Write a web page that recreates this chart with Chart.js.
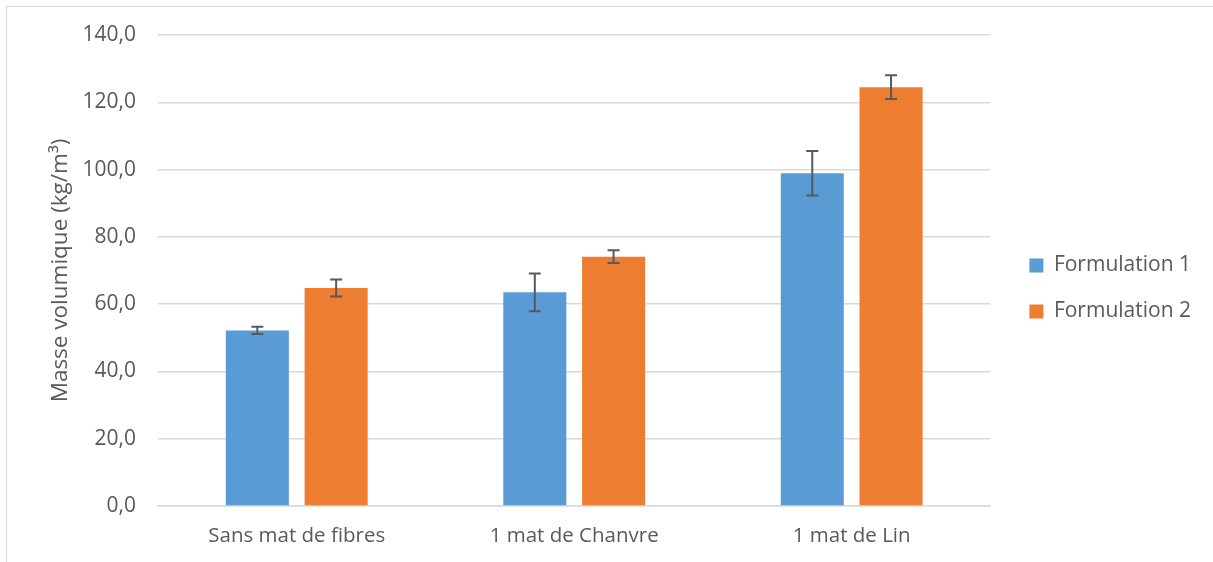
<!DOCTYPE html>
<html>
<head>
<meta charset="utf-8">
<script src="https://cdn.jsdelivr.net/npm/chart.js@4"></script>
<style>
  body { margin: 0; background: #fff; }
  #frame { position: absolute; left: 6px; top: 6px; width: 1220px; height: 600px; border: 1px solid #d9d9d9; }
  #wrap { position: absolute; left: 0; top: 0; width: 1213px; height: 562px; }
</style>
</head>
<body>
<div id="frame"></div>
<div id="wrap"><canvas id="myChart"></canvas></div>
<script>
let categories = ["Sans mat de fibres", "1 mat de Chanvre", "1 mat de Lin"];
let formulation1 = [52.2, 63.5, 98.9];
let formulation2 = [64.8, 74.1, 124.5];
let err1 = [1.1, 5.6, 6.6];
let err2 = [2.5, 1.9, 3.5];
let yTicks = [0, 20, 40, 60, 80, 100, 120, 140];

const errors = [err1, err2];
const legendShiftX = 14;
const legendShiftY = -4;

// error bars, drawn on top of each bar using the chart's own scales
const errorBars = {
  id: "errorBars",
  afterDatasetsDraw(chart) {
    const ctx = chart.ctx;
    const y = chart.scales.y;
    ctx.save();
    ctx.strokeStyle = "#595959";
    ctx.lineWidth = 2;
    chart.data.datasets.forEach((ds, i) => {
      chart.getDatasetMeta(i).data.forEach((bar, j) => {
        const v = ds.data[j];
        const e = errors[i][j];
        const top = y.getPixelForValue(v + e);
        const bot = y.getPixelForValue(v - e);
        const x = bar.x;
        ctx.beginPath();
        ctx.moveTo(x, top); ctx.lineTo(x, bot);
        ctx.moveTo(x - 6, top); ctx.lineTo(x + 6, top);
        ctx.moveTo(x - 6, bot); ctx.lineTo(x + 6, bot);
        ctx.stroke();
      });
    });
    ctx.restore();
  }
};

// push the legend a bit, like the original
const legendNudge = {
  id: "legendNudge",
  afterLayout(chart) {
    const lg = chart.legend;
    lg.left += legendShiftX; lg.right += legendShiftX;
    lg.top += legendShiftY; lg.bottom += legendShiftY;
  }
};

new Chart("myChart", {
  type: "bar",
  data: {
    labels: categories,
    datasets: [{
      label: "Formulation 1",
      data: formulation1,
      backgroundColor: "#5b9bd5"
    }, {
      label: "Formulation 2",
      data: formulation2,
      backgroundColor: "#ed7d31"
    }]
  },
  options: {
    responsive: true,
    maintainAspectRatio: false,
    animation: false,
    categoryPercentage: 0.568,
    barPercentage: 0.8,
    layout: { padding: { left: 40, top: 35, right: 26, bottom: 12 } },
    plugins: {
      legend: {
        position: "right",
        labels: {
          boxWidth: 14,
          boxHeight: 14,
          padding: 25,
          color: "#595959",
          font: { family: "Open Sans", size: 21 }
        }
      },
      tooltip: { enabled: false }
    },
    scales: {
      x: {
        afterFit: axis => { axis.height = 44; },
        grid: { display: false, drawTicks: false },
        border: { color: "#d9d9d9", width: 1.5 },
        ticks: {
          color: "#595959",
          padding: 18,
          font: { family: "Open Sans", size: 20.5 }
        }
      },
      y: {
        min: 0,
        max: 140,
        afterFit: axis => { axis.width = 118; },
        afterBuildTicks: axis => { axis.ticks = yTicks.map(v => ({ value: v })); },
        grid: { color: "#d9d9d9", lineWidth: 1.5, drawTicks: false },
        border: { display: false },
        ticks: {
          color: "#595959",
          padding: 22,
          font: { family: "Open Sans", size: 21 },
          callback: v => v.toFixed(1).replace(".", ",")
        },
        title: {
          display: true,
          text: "Masse volumique (kg/m³)",
          color: "#595959",
          font: { family: "Open Sans", size: 22.5 },
          padding: 7
        }
      }
    }
  },
  plugins: [errorBars, legendNudge]
});
</script>
</body>
</html>
